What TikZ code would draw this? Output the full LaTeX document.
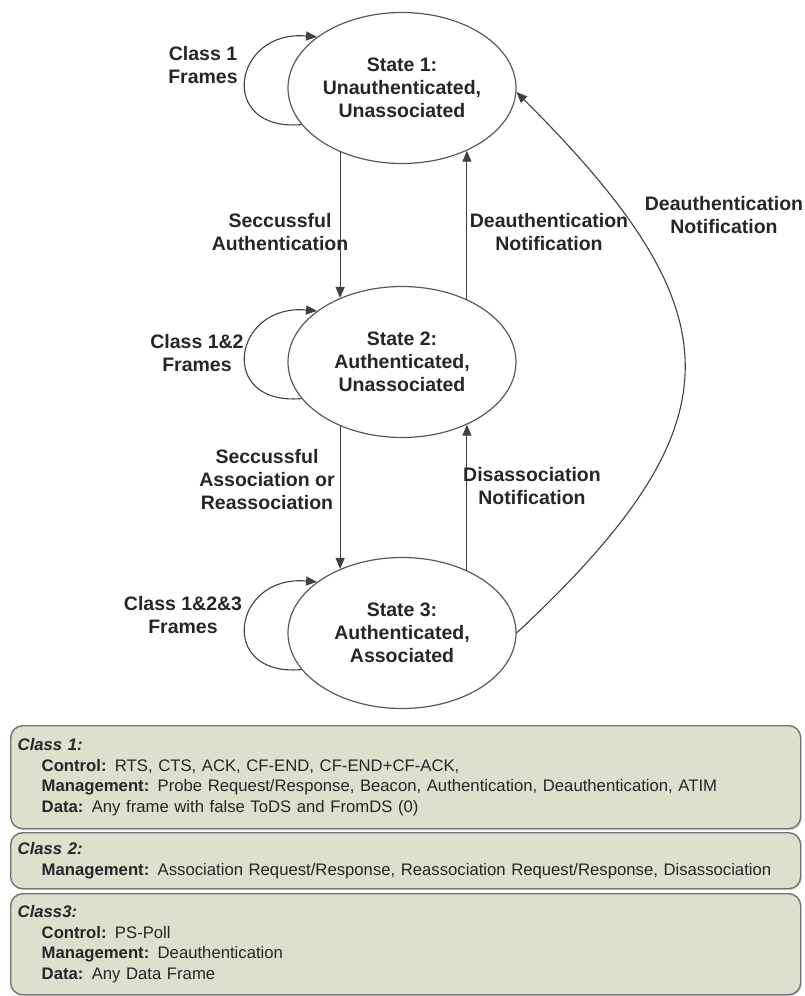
\documentclass[tikz,border=0pt]{standalone}
\usepackage{fontspec}
\setmainfont{Liberation Sans}
\usepackage{xcolor}
\usetikzlibrary{arrows.meta}
\usetikzlibrary{shapes.geometric}
\usetikzlibrary{shadows}

\definecolor{boxfill}{RGB}{221,224,204}
\newcommand{\statefont}{\fontsize{19.5}{23}\selectfont\bfseries}
\newcommand{\clsfont}{\fontsize{16.7}{20.5}\selectfont}
\newcommand{\clsindent}{\hspace*{24pt}}

\begin{document}
\begin{tikzpicture}[
  x=1pt, y=1pt,
  >={Triangle[length=11pt,width=9pt]},
  state/.style={ellipse, draw=black!65, line width=1.2pt, fill=white,
    minimum width=228pt, minimum height=151pt, inner sep=0pt,
    align=center, font=\statefont, text=black!85},
  lbl/.style={align=center, font=\statefont, text=black!85},
  link/.style={->, draw=black!75, line width=1.1pt},
  clsbox/.style={draw=black!55, line width=1.4pt, fill=boxfill,
    rounded corners=12pt, anchor=north west, text width=776pt,
    inner xsep=7pt, inner ysep=0pt, align=left, font=\clsfont,
    text=black!85,
    drop shadow={shadow xshift=1pt, shadow yshift=-1.5pt, opacity=0.3}},
]

\useasboundingbox (0,0) rectangle (805,-996);

\node [state] (s1) at (402,-88) {State 1:\\Unauthenticated,\\Unassociated};
\node [state] (s2) at (402,-362) {State 2:\\Authenticated,\\Unassociated};
\node [state] (s3) at (402,-633) {State 3:\\Authenticated,\\Associated};

\draw [link] (s1.200) to [out=185, in=175, distance=85pt] (s1.149);
\draw [link] (s2.200) to [out=185, in=175, distance=85pt] (s2.149);
\draw [link] (s3.200) to [out=185, in=175, distance=85pt] (s3.149);
\node [lbl] (f1) at (203,-65) {Class 1\\Frames};
\node [lbl] (f2) at (197,-353) {Class 1\&2\\Frames};
\node [lbl] (f3) at (183,-615) {Class 1\&2\&3\\Frames};

\draw [link] (s1.226) -- (s2.134);
\draw [link] (s2.44) -- (s1.-44);
\draw [link] (s2.226) -- (s3.134);
\draw [link] (s3.44) -- (s2.-44);
\draw [link] (s3.east) to [out=43, in=-45, distance=311pt] (s1.-2);

\node [lbl] (auth) at (280,-232) {Seccussful\\Authentication};
\node [lbl] (deauth) at (549,-232) {Deauthentication\\Notification};
\node [lbl] (assoc) at (267,-480) {Seccussful\\Association or\\Reassociation};
\node [lbl] (disassoc) at (532,-486) {Disassociation\\Notification};
\node [lbl] (deauthr) at (724,-215) {Deauthentication\\Notification};

\node [clsbox, minimum height=103pt] (cls1) at (10,-725) {%
  \textbf{\textit{Class 1:}}\\
  \clsindent\textbf{Control:} RTS, CTS, ACK, CF-END, CF-END+CF-ACK,\\
  \clsindent\textbf{Management:} Probe Request/Response, Beacon, Authentication, Deauthentication, ATIM\\
  \clsindent\textbf{Data:} Any frame with false ToDS and FromDS (0)};
\node [clsbox, minimum height=56pt] (cls2) at (10,-832) {%
  \textbf{\textit{Class 2:}}\\
  \clsindent\textbf{Management:} Association Request/Response, Reassociation Request/Response, Disassociation};
\node [clsbox, minimum height=101pt] (cls3) at (10,-893) {%
  \textbf{\textit{Class3:}}\\
  \clsindent\textbf{Control:} PS-Poll\\
  \clsindent\textbf{Management:} Deauthentication\\
  \clsindent\textbf{Data:} Any Data Frame};

\end{tikzpicture}
\end{document}
